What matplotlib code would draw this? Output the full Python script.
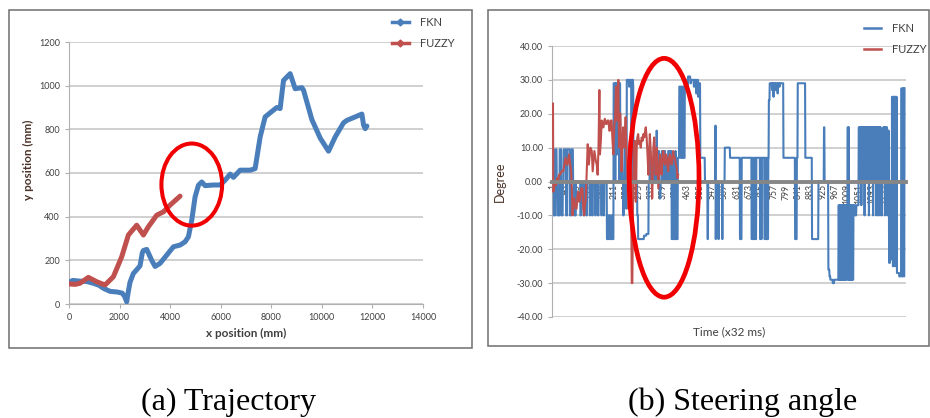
import matplotlib.pyplot as plt
import numpy as np
from matplotlib.lines import Line2D
from matplotlib.patches import Ellipse, Rectangle

# (a) trajectory, positions in mm
fkn_x = [0, 150, 400, 700, 963, 1200, 1359, 1623, 1900, 2100, 2200, 2282, 2350, 2414,
         2546, 2700, 2810, 2900, 2942, 3074, 3272, 3404, 3600, 3865, 4129, 4393, 4591,
         4723, 4855, 4987, 5119, 5251, 5383, 5700, 5976, 6174, 6372, 6504, 6768, 7164,
         7361, 7559, 7757, 8000, 8219, 8350, 8483, 8747, 8945, 9208, 9274, 9604, 9934,
         10264, 10527, 10858, 10989, 11319, 11583, 11649, 11715, 11781]
fkn_y = [100, 108, 105, 103, 95, 85, 72, 58, 55, 50, 35, 10, 60, 100,
         140, 160, 175, 235, 245, 250, 200, 172, 186, 224, 262, 270, 285,
         308, 384, 491, 544, 559, 542, 545, 545, 567, 595, 580, 613, 613,
         620, 765, 857, 880, 900, 895, 1024, 1055, 986, 991, 980, 845, 760,
         700, 765, 830, 841, 857, 870, 820, 803, 815]
fuzzy_x = [0, 250, 435, 765, 1095, 1425, 1755, 2084, 2348, 2678, 2942, 3140, 3470,
           3734, 3997, 4393]
fuzzy_y = [92, 90, 95, 122, 102, 87, 125, 216, 316, 361, 316, 354, 407, 422, 453, 494]

# (b) steering angle; FKN output is piecewise constant: (degree, number of samples)
fkn_runs = [
    (9.5, 3), (-10, 6), (9.5, 4), (0, 3), (-10, 7), (9.5, 6), (-10, 5), (0, 3), (9.5, 8),
    (-10, 4), (9.5, 9), (-10, 5), (9.5, 6), (0, 4), (-10, 6), (0, 9),
    (0, 6), (-10, 3), (0, 8), (-10, 2), (0, 7), (-10, 3), (0, 9), (-10, 2), (0, 6),
    (-10, 3), (0, 8), (-10, 2), (0, 7), (-10, 3), (0, 9), (-10, 2), (0, 6), (-10, 2), (0, 9),
    (-17, 4), (-10, 2), (-17, 3), (-10, 2), (-17, 5), (-10, 2), (-17, 5),
    (29, 5), (0, 2), (29, 4), (8, 2), (29, 6), (0, 2), (29, 2),
    (0, 4), (10, 3), (0, 3), (-10, 2), (0, 3), (10, 2), (0, 3), (-8, 2),
    (30, 8), (28, 2), (30, 6), (0, 2), (30, 4), (28, 1),
    (0, 6), (10, 3), (0, 4), (-10, 3),
    (-17, 20), (-16, 8), (-15.5, 8),
    (0, 4), (9, 3), (0, 5), (6, 3), (0, 4), (9, 3), (0, 5), (15, 2), (0, 3), (9, 4), (0, 3),
    (-5, 2), (0, 4), (9, 5), (0, 3), (9, 4), (0, 4), (7, 3), (0, 3), (9, 5), (0, 4), (9, 3),
    (-17, 2), (0, 1), (-17, 3), (7, 1), (-17, 2), (0, 1), (-17, 3), (9, 1), (-17, 2), (0, 2),
    (-17, 3), (7, 2),
    (7, 3), (28, 4), (7, 3), (28, 3), (7, 4), (28, 2), (7, 3),
    (30, 10), (28, 1), (31, 8), (29, 3), (30, 9), (28, 2), (30, 6), (26, 2), (30, 5),
    (25, 2), (29, 5),
    (7, 16),
    (0, 9), (-17, 2), (0, 25), (16.5, 1), (-17, 1), (0, 8), (-17, 2), (0, 11), (-17, 2),
    (0, 7), (10, 1),
    (10, 17), (7, 34),
    (-17, 6), (7, 34),
    (-17, 2), (7, 1), (-17, 2), (7, 1), (-17, 3), (7, 2), (-17, 2), (7, 1), (-17, 2), (7, 2),
    (7, 11), (-17, 2), (7, 2), (-17, 2), (7, 2), (7, 7), (-17, 3), (7, 2), (-17, 3), (7, 2),
    (-17, 3), (7, 2),
    (24, 3), (29, 8), (27, 1), (29, 4), (25, 1), (29, 5), (27, 2), (29, 6), (26, 1), (29, 5),
    (28, 2), (29, 12),
    (7, 40), (-17, 6), (7, 3), (29, 26), (7, 23), (-17, 22),
    (0, 19), (16, 2), (0, 13),
    (-26, 4), (-28, 3), (-29, 8), (-30, 5), (-29, 15),
    (-7, 2), (-29, 2), (-7, 1), (-29, 3), (-7, 2), (-29, 2), (-7, 1), (-29, 3), (-7, 2),
    (-29, 2), (-7, 2), (-29, 3), (-7, 2), (-29, 2), (-7, 2), (16, 2), (-29, 2), (16, 1),
    (-29, 3), (-7, 2), (-29, 2), (-7, 2), (-29, 2), (-7, 2), (-29, 2),
    (-7, 6), (-10, 4), (-7, 8),
    (16, 3), (0, 1), (16, 2), (0, 1), (16, 2), (-7, 1), (16, 3), (0, 1), (16, 2), (0, 2),
    (16, 2), (-10, 1), (16, 3), (0, 1), (16, 2), (0, 1), (16, 3), (0, 2), (16, 2), (-10, 1),
    (16, 2), (0, 1), (16, 3), (0, 1), (16, 2), (0, 2), (16, 2), (-10, 1), (16, 3), (0, 1),
    (16, 2), (0, 1), (16, 2), (-10, 1), (16, 3), (0, 1), (16, 2), (-10, 2), (16, 2), (0, 1),
    (16, 2), (-10, 1), (16, 2), (0, 1), (15, 2), (-10, 2), (15, 2), (0, 1),
    (16, 3), (0, 1), (16, 2), (-10, 1), (16, 2), (0, 2), (16, 3), (-10, 1), (15, 2), (0, 1),
    (15, 2),
    (-24, 4), (0, 2), (-23, 4),
    (25, 3), (-25, 2), (25, 4), (-25, 1), (25, 3), (-25, 2), (25, 2),
    (-27, 8), (-28, 7),
    (27.5, 3), (-28, 3), (27.5, 3), (-28, 2), (27.5, 1),
]

fuzzy_t = [1, 2, 5, 8, 12, 16, 19, 22, 25, 30, 36, 40, 44, 48, 51, 56, 60, 63, 66, 68,
           71, 74, 78, 82, 85, 88, 91, 94, 98, 102, 105, 108, 111, 113, 117, 120, 124,
           129, 134, 137, 143, 148, 151, 154, 157, 160, 162, 165, 168, 171, 174, 177,
           179, 182, 185, 188, 191, 194, 196, 199, 202, 205, 208, 211, 214, 217, 220,
           225, 227, 230, 232, 236, 239, 242, 245, 248, 250, 253, 255, 257, 259, 262,
           265, 268, 271, 273, 276, 279, 282, 285, 288, 290, 293, 296, 299, 302, 305,
           308, 311, 314, 317, 319, 322, 325, 328, 331, 333, 336, 338, 341, 343, 345,
           348, 350, 353, 356, 359, 362, 365, 368, 370, 373, 376, 379, 382, 385, 388,
           391, 394, 396, 399, 402, 405, 408, 411, 413, 416, 419, 422, 425, 428, 430]
fuzzy_deg = [23, -3, -2, 0, -1, 1, 0, 2, 2, 3, 3, 5, 7, 5, 5, 8, 5, 3, -3, -10,
             -5, -5, -8, -8, -4, -3, -6, -5, -2, -2, -8, -10, -6, -6, 4, 11, 5,
             10, 9, 3, 9, 6, 5, 2, 10, 27, 8, 12, 18, 16, 16, 18,
             18.5, 17, 17, 18, 18, 15, 15, 18, 18, 12, 8, 16, 19, 28, 18,
             30, 10, 20, 20, 3, 12, 16, 10, 14, 19, 8, 5, -2, -8, 8,
             12, 4, -30, -30, 0, 10, 12, -6, 10, 13, 14, 11, 12, 10, 13,
             12, 14, 13, 15, 16, 13, 8, 2, 10, 14, 9, 5, -5, 3, 10,
             13, 9, 2, 10, 5, -2, 3, 8, 6, 2, 6, 9, 6, 5, 8,
             7, 4, 3, 7, 8, 6, 5, 7, 9, 7, 7, 5, 4, 1, 2]

time_ticks = list(range(1, 1178, 42))

BLUE = "#4a7ebb"
RED = "#c0504d"
RING = "#f00000"
GRID = "#c8c8c8"
TXT = "#404040"

plt.rcParams["font.family"] = ["Lato", "DejaVu Sans"]

W, H = 930, 418
fig = plt.figure(figsize=(W / 100, H / 100), dpi=100)


def frac(x0, y0, x1, y1):
    return [x0 / W, 1 - y1 / H, (x1 - x0) / W, (y1 - y0) / H]


# panel frames
for x0, y0, x1, y1 in [(9, 10, 472, 348), (488, 10, 929, 346)]:
    fig.patches.append(Rectangle((x0 / W, 1 - y1 / H), (x1 - x0) / W, (y1 - y0) / H,
                                 transform=fig.transFigure, fill=False,
                                 edgecolor="#6e6e6e", linewidth=1.1))

# ---- (a) trajectory ----
ax1 = fig.add_axes(frac(69, 42, 423, 304))
ax1.plot(fkn_x, fkn_y, color=BLUE, lw=3.6, solid_capstyle="round",
         solid_joinstyle="round", zorder=3)
ax1.plot(fuzzy_x, fuzzy_y, color=RED, lw=3.6, solid_capstyle="round",
         solid_joinstyle="round", zorder=4)
ax1.add_patch(Ellipse((4855, 547), 2400, 376, fill=False, edgecolor=RING, lw=2.9,
                      zorder=5))
ax1.set_xlim(0, 14000)
ax1.set_ylim(0, 1200)
ax1.set_xticks(range(0, 14001, 2000))
ax1.set_yticks(range(0, 1201, 200))
ax1.grid(axis="y", color=GRID, lw=1.2)
ax1.set_axisbelow(True)
for s in ["top", "right"]:
    ax1.spines[s].set_visible(False)
for s in ["left", "bottom"]:
    ax1.spines[s].set_color("#b0b0b0")
ax1.tick_params(colors="#b0b0b0", labelcolor=TXT, labelsize=6.5, length=3)
ax1.set_xlabel("x position (mm)", fontsize=8.5, fontweight="bold", color=TXT)
ax1.set_ylabel("y position (mm)", fontsize=8.5, fontweight="bold", color="#4a3228")
ax1.xaxis.set_label_coords(0.5, -0.09)
ax1.yaxis.set_label_coords(-0.098, 0.55)
h1 = [Line2D([], [], color=BLUE, lw=2.5, marker="D", ms=3.5),
      Line2D([], [], color=RED, lw=2.5, marker="D", ms=3.5)]
fig.legend(h1, ["FKN", "FUZZY"], loc="upper left", bbox_to_anchor=(386 / W, 1 - 11 / H),
           frameon=False, fontsize=8, handlelength=1.6, handletextpad=1.0,
           labelspacing=0.9, labelcolor=TXT, borderpad=0)

# ---- (b) steering angle ----
levels = np.array([r[0] for r in fkn_runs], dtype=float)
counts = np.array([r[1] for r in fkn_runs])
fkn_steer = np.repeat(levels, counts)
fkn_t = np.arange(1, len(fkn_steer) + 1)

ax2 = fig.add_axes(frac(552, 46, 906, 317))
ax2.plot(fkn_t, fkn_steer, color=BLUE, lw=1.5, zorder=3)
ax2.plot(fuzzy_t, fuzzy_deg, color=RED, lw=1.5, zorder=4)
ax2.add_patch(Ellipse((382, 1.1), 239, 70.5, fill=False, edgecolor=RING, lw=3.4,
                      zorder=6))
ax2.set_xlim(-2.4, 1211)
ax2.set_ylim(-40, 40)
ax2.set_yticks(range(-40, 41, 10))
ax2.set_yticklabels([f"{v:.2f}" for v in range(-40, 41, 10)])
ax2.set_xticks(time_ticks)
ax2.set_xticklabels([str(t) for t in time_ticks])
ax2.grid(axis="y", color=GRID, lw=1.2)
ax2.set_axisbelow(True)
ax2.spines["top"].set_visible(False)
ax2.spines["right"].set_visible(False)
ax2.spines["left"].set_color("#b0b0b0")
ax2.spines["bottom"].set_position(("data", 0))
ax2.spines["bottom"].set_color("#868686")
ax2.spines["bottom"].set_linewidth(2.8)
ax2.spines["bottom"].set_zorder(5)
ax2.tick_params(axis="y", colors="#b0b0b0", labelcolor=TXT, labelsize=6.5, length=3)
ax2.tick_params(axis="x", length=0, pad=2, labelcolor=TXT, labelsize=6.2,
                labelrotation=90)
for lab in ax2.get_xticklabels():
    lab.set_verticalalignment("top")
    lab.set_horizontalalignment("center")
ax2.set_xlabel("Time (x32 ms)", fontsize=8.5, color=TXT)
ax2.xaxis.set_label_coords(0.5, -0.035)
ax2.set_ylabel("Degree", fontsize=9, color="#4a3228")
ax2.yaxis.set_label_coords(-0.13, 0.5)
h2 = [Line2D([], [], color=BLUE, lw=1.8), Line2D([], [], color=RED, lw=1.8)]
fig.legend(h2, ["FKN", "FUZZY"], loc="upper left", bbox_to_anchor=(858 / W, 1 - 17 / H),
           frameon=False, fontsize=8, handlelength=1.6, handletextpad=1.0,
           labelspacing=0.9, labelcolor=TXT, borderpad=0)

# captions
fig.text(228 / W, 1 - 402 / H, "(a) Trajectory", ha="center", va="center",
         family="Liberation Serif", fontsize=23, color="black")
fig.text(743 / W, 1 - 402 / H, "(b) Steering angle", ha="center", va="center",
         family="Liberation Serif", fontsize=23, color="black")

fig.savefig("out.png", dpi=100)
